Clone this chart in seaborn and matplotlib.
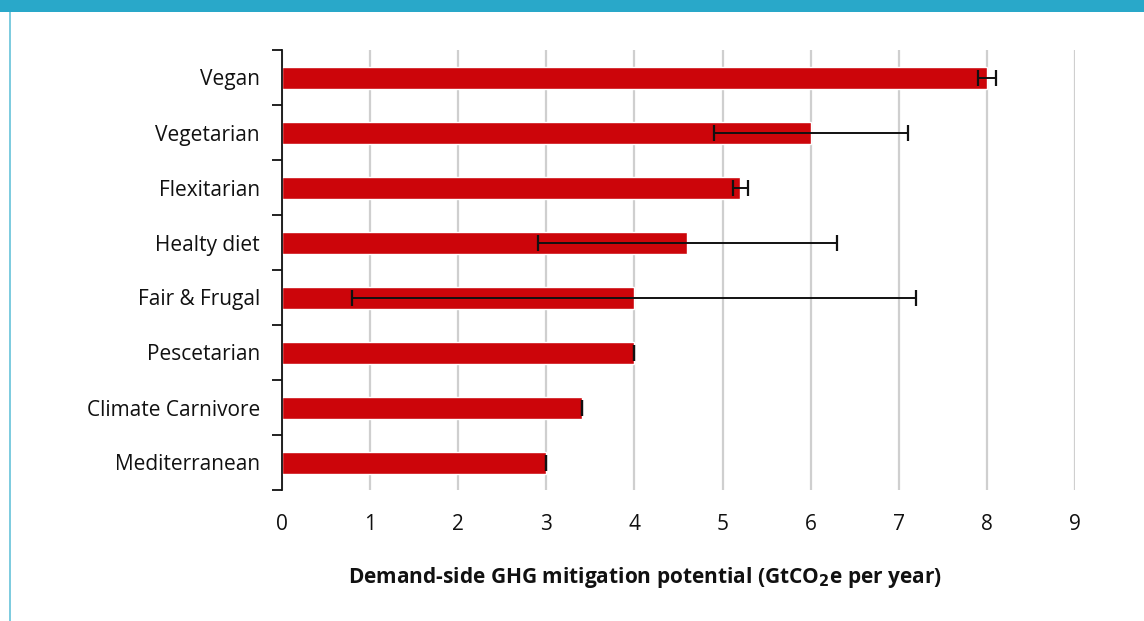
import matplotlib
matplotlib.use("Agg")
import matplotlib.pyplot as plt
import matplotlib.patches as mpatches
import seaborn as sns
import pandas as pd
import numpy as np

diets = ["Vegan", "Vegetarian", "Flexitarian", "Healty diet", "Fair & Frugal",
         "Pescetarian", "Climate Carnivore", "Mediterranean"]
potential = [8.0, 6.0, 5.2, 4.6, 4.0, 4.0, 3.4, 3.0]
err_low = [7.9, 4.9, 5.12, 2.9, 0.8, 4.0, 3.4, 3.0]
err_high = [8.1, 7.1, 5.29, 6.3, 7.2, 4.0, 3.4, 3.0]
xticks = [0, 1, 2, 3, 4, 5, 6, 7, 8, 9]

sns.set_theme(style="white")
plt.rcParams["font.family"] = ["Open Sans", "DejaVu Sans"]

W, H = 1144, 621
fig = plt.figure(figsize=(W / 100, H / 100), dpi=100)
ax = fig.add_axes([282 / W, 1 - 490 / H, (1075 - 282) / W, (490 - 50) / H])

df = pd.DataFrame({"diet": diets, "value": potential})
sns.barplot(data=df, x="value", y="diet", orient="h", color="#CC050A",
            saturation=1, width=0.4, ax=ax, zorder=3)

pos = np.arange(len(diets))
vals = np.array(potential)
xerr = np.vstack([vals - np.array(err_low), np.array(err_high) - vals])
ax.errorbar(vals, pos, xerr=xerr, fmt="none", ecolor="#111111",
            elinewidth=1.4, capsize=5.5, capthick=1.6, zorder=4)

ax.set_xlim(0, 9)
ax.set_ylim(len(diets) - 0.5, -0.5)
ax.set_xticks(xticks)
ax.set_xticklabels([str(t) for t in xticks])
ax.grid(axis="x", color="#CFCFCF", linewidth=1.6, zorder=0)
ax.set_axisbelow(True)
for s in ["top", "right", "bottom"]:
    ax.spines[s].set_visible(False)
ax.spines["left"].set_color("#111111")
ax.spines["left"].set_linewidth(1.3)
ax.spines["left"].set_zorder(5)

ax.set_yticks(pos)
ax.set_yticklabels(diets)
ax.set_yticks(np.arange(-0.5, len(diets) + 0.5, 1), minor=True)
ax.tick_params(axis="y", which="major", length=0, pad=16, labelsize=15, labelcolor="#111111")
ax.tick_params(axis="y", which="minor", length=7, width=1.3, color="#111111", direction="out", left=True)
ax.tick_params(axis="x", which="major", length=0, pad=17, labelsize=15, labelcolor="#111111")
ax.set_xlabel("")
ax.set_ylabel("")

fig.text(645 / W, 1 - 577 / H, "Demand-side GHG mitigation potential (GtCO$_\\mathbf{2}$e per year)",
         ha="center", va="center", fontsize=15, fontweight="bold", color="#111111")

# frame decorations
fig.patches.append(mpatches.Rectangle((0, 1 - 12 / H), 1, 12 / H, transform=fig.transFigure,
                                      facecolor="#29A8C9", edgecolor="none", zorder=0))
fig.patches.append(mpatches.Rectangle((8.5 / W, 0), 2 / W, 1 - 12 / H, transform=fig.transFigure,
                                      facecolor="#7FCCDF", edgecolor="none", zorder=0))

fig.savefig("out.png", dpi=100)
